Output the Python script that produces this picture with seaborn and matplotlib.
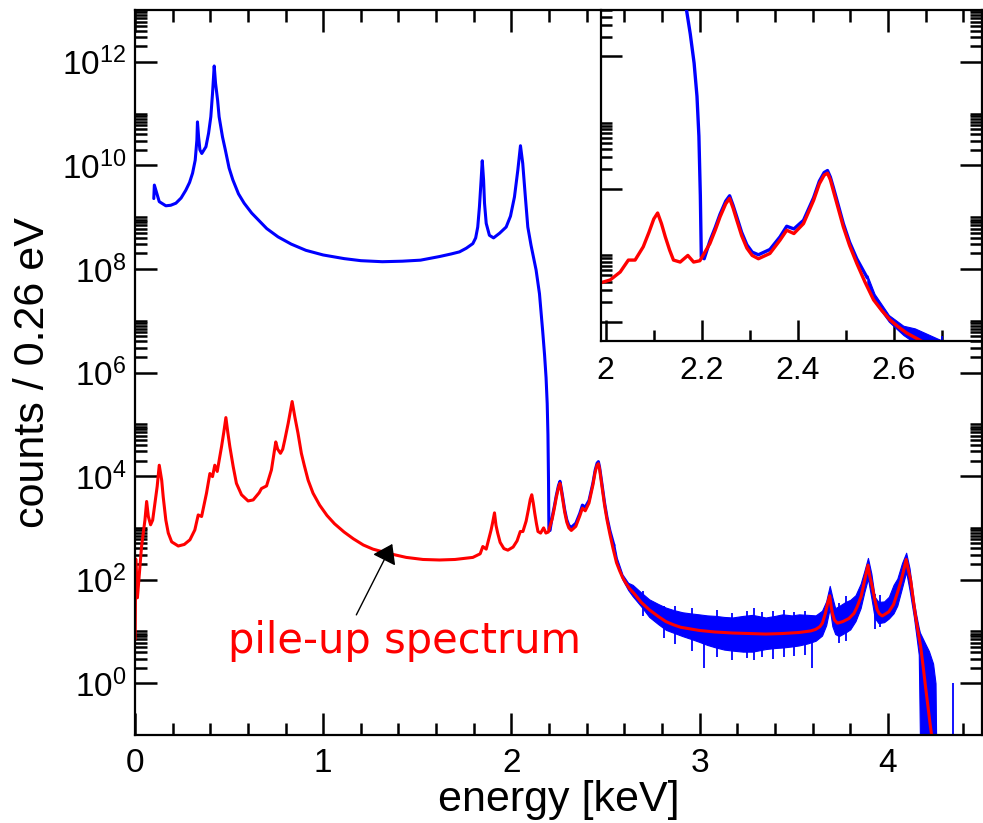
import numpy as np
import pandas as pd
import matplotlib
matplotlib.use("Agg")
import matplotlib.pyplot as plt
import seaborn as sns
from matplotlib.ticker import FixedLocator, MultipleLocator, NullFormatter, FuncFormatter

# ---------------- data (counts given as log10) ----------------
blue_E = [0.100, 0.103, 0.129, 0.164, 0.190, 0.2175, 0.245, 0.270, 0.290, 0.306,
          0.320, 0.329, 0.332, 0.338, 0.345, 0.355, 0.377, 0.391, 0.403, 0.412,
          0.421, 0.428, 0.439, 0.447, 0.465, 0.480, 0.500, 0.520, 0.550, 0.580,
          0.620, 0.660, 0.700, 0.760, 0.830, 0.908, 1.000, 1.111, 1.200, 1.314,
          1.420, 1.517, 1.618, 1.680, 1.724, 1.760, 1.795, 1.810, 1.821, 1.830,
          1.839, 1.845, 1.852, 1.857, 1.866, 1.883, 1.905, 1.937, 1.972, 1.995,
          2.016, 2.034, 2.048, 2.060, 2.074, 2.087, 2.104, 2.131, 2.149, 2.166,
          2.176, 2.184, 2.190, 2.194, 2.197, 2.199, 2.205, 2.217, 2.228, 2.238,
          2.250, 2.258, 2.265, 2.273, 2.283, 2.294, 2.305, 2.318, 2.342, 2.363,
          2.377, 2.392, 2.412, 2.433, 2.445, 2.455, 2.462, 2.468, 2.474, 2.484,
          2.495, 2.508, 2.523, 2.545]
blue_log = [9.36, 9.62, 9.30, 9.22, 9.23, 9.27, 9.37, 9.52, 9.67, 9.85,
            10.10, 10.49, 10.84, 10.55, 10.30, 10.23, 10.36, 10.62, 10.94, 11.39,
            11.92, 11.59, 11.26, 10.94, 10.55, 10.30, 9.95, 9.72, 9.45, 9.27,
            9.08, 8.93, 8.78, 8.62, 8.48, 8.36, 8.27, 8.20, 8.16, 8.14,
            8.15, 8.17, 8.24, 8.29, 8.33, 8.40, 8.49, 8.60, 8.81, 9.20,
            9.72, 10.09, 9.72, 9.27, 8.88, 8.65, 8.60, 8.69, 8.81, 9.02,
            9.39, 9.91, 10.38, 10.04, 9.39, 8.81, 8.46, 7.98, 7.52, 6.80,
            6.34, 5.90, 5.40, 4.80, 3.90, 2.98, 2.95, 3.22, 3.42, 3.62,
            3.82, 3.90, 3.76, 3.58, 3.35, 3.16, 3.05, 3.01, 3.09, 3.28,
            3.44, 3.40, 3.53, 3.87, 4.12, 4.25, 4.28, 4.18, 4.03, 3.77,
            3.48, 3.20, 2.95, 2.66]

# noisy part of the measured spectrum: upper / lower envelope of the dense band
band_E = [2.545, 2.560, 2.590, 2.620, 2.644, 2.690, 2.732, 2.780, 2.821, 2.865,
          2.909, 2.950, 2.997, 3.040, 3.086, 3.130, 3.174, 3.230, 3.280, 3.351,
          3.400, 3.440, 3.490, 3.528, 3.575, 3.616, 3.650, 3.672, 3.691, 3.705,
          3.720, 3.740, 3.775, 3.800, 3.828, 3.855, 3.875, 3.894, 3.912, 3.930,
          3.950, 3.980, 4.005, 4.030, 4.050, 4.075, 4.097, 4.115, 4.138, 4.150,
          4.164, 4.170, 4.191, 4.218, 4.240, 4.253, 4.256]
band_hi = [2.70, 2.42, 2.10, 1.94, 1.90, 1.75, 1.62, 1.53, 1.46, 1.41,
           1.37, 1.35, 1.33, 1.31, 1.30, 1.28, 1.27, 1.30, 1.32, 1.27,
           1.30, 1.33, 1.31, 1.33, 1.32, 1.31, 1.40, 1.58, 1.88, 1.66,
           1.45, 1.49, 1.57, 1.61, 1.70, 1.92, 2.17, 2.42, 2.12, 1.67,
           1.57, 1.58, 1.67, 1.90, 2.02, 2.32, 2.52, 2.22, 1.58, 1.33,
           1.07, 0.98, 0.82, 0.62, 0.38, 0.00, -1.00]
band_lo = [2.57, 2.30, 2.00, 1.80, 1.68, 1.48, 1.28, 1.14, 1.03, 0.97,
           0.91, 0.86, 0.80, 0.74, 0.69, 0.65, 0.63, 0.61, 0.61, 0.66,
           0.68, 0.69, 0.71, 0.73, 0.77, 0.82, 0.92, 1.12, 1.45, 1.10,
           0.95, 0.91, 0.98, 1.04, 1.20, 1.45, 1.76, 2.02, 1.65, 1.26,
           1.16, 1.18, 1.25, 1.35, 1.50, 1.84, 2.15, 1.80, 1.28, 0.95,
           0.55, -1.00, -1.00, -1.00, -1.00, -1.00, -1.00]
# single channels sticking out of the band
spike_E = [2.700, 2.810, 2.870, 2.960, 3.024, 3.090, 3.170, 3.250, 3.290, 3.330,
           3.390, 3.450, 3.500, 3.560, 3.598, 3.740, 3.780, 3.930, 3.960, 4.345]
spike_lo = [1.30, 0.88, 0.75, 0.62, 0.29, 0.50, 0.45, 0.48, 0.45, 0.50,
            0.47, 0.50, 0.52, 0.55, 0.29, 0.78, 0.82, 1.05, 1.08, -1.00]
spike_hi = [1.78, 1.50, 1.50, 1.45, 1.10, 1.42, 1.36, 1.40, 1.45, 1.38,
            1.40, 1.42, 1.38, 1.40, 1.20, 1.55, 1.68, 1.72, 1.70, 0.00]

pile_E = [0.001, 0.004, 0.013, 0.035, 0.053, 0.062, 0.071, 0.083, 0.094, 0.106,
          0.118, 0.129, 0.142, 0.150, 0.164, 0.177, 0.195, 0.230, 0.262, 0.292,
          0.318, 0.336, 0.354, 0.380, 0.398, 0.412, 0.424, 0.437, 0.460, 0.472,
          0.483, 0.493, 0.504, 0.522, 0.539, 0.566, 0.601, 0.628, 0.660, 0.672,
          0.699, 0.725, 0.737, 0.748, 0.758, 0.773, 0.785, 0.796, 0.814, 0.835,
          0.849, 0.866, 0.884, 0.900, 0.920, 0.946, 0.981, 1.020, 1.060, 1.111,
          1.160, 1.213, 1.264, 1.314, 1.380, 1.441, 1.530, 1.618, 1.700, 1.795,
          1.834, 1.848, 1.866, 1.892, 1.900, 1.910, 1.918, 1.927, 1.940, 1.960,
          1.981, 2.009, 2.030, 2.047, 2.061, 2.078, 2.090, 2.100, 2.108, 2.116,
          2.124, 2.133, 2.141, 2.155, 2.171, 2.183, 2.196, 2.217, 2.228, 2.238,
          2.250, 2.258, 2.265, 2.273, 2.283, 2.294, 2.305, 2.318, 2.342, 2.363,
          2.377, 2.392, 2.412, 2.433, 2.445, 2.455, 2.462, 2.468, 2.474, 2.484,
          2.495, 2.508, 2.523, 2.540, 2.558, 2.575, 2.592, 2.610, 2.627, 2.655,
          2.690, 2.732, 2.780, 2.821, 2.860, 2.900, 2.950, 2.997, 3.080, 3.174,
          3.260, 3.351, 3.440, 3.528, 3.590, 3.616, 3.638, 3.652, 3.668, 3.680,
          3.691, 3.698, 3.705, 3.716, 3.732, 3.760, 3.793, 3.820, 3.837, 3.858,
          3.873, 3.885, 3.894, 3.903, 3.917, 3.930, 3.943, 3.955, 3.970, 4.005,
          4.030, 4.050, 4.066, 4.080, 4.090, 4.097, 4.108, 4.121, 4.135, 4.147,
          4.160, 4.174, 4.187, 4.200, 4.213, 4.226, 4.240]
pile_log = [0.85, 2.40, 1.65, 2.64, 3.15, 3.51, 3.22, 3.06, 3.15, 3.47,
            3.80, 4.21, 3.92, 3.60, 3.15, 2.90, 2.73, 2.65, 2.68, 2.77,
            2.96, 3.25, 3.22, 3.67, 4.05, 3.99, 4.21, 4.09, 4.57, 4.85,
            5.13, 4.85, 4.57, 4.18, 3.86, 3.64, 3.52, 3.54, 3.68, 3.76,
            3.81, 4.12, 4.40, 4.66, 4.52, 4.44, 4.52, 4.70, 5.02, 5.44,
            5.15, 4.83, 4.44, 4.20, 3.92, 3.67, 3.44, 3.24, 3.08, 2.92,
            2.79, 2.67, 2.59, 2.54, 2.48, 2.43, 2.39, 2.38, 2.39, 2.43,
            2.50, 2.64, 2.59, 2.96, 3.10, 3.29, 3.05, 2.90, 2.72, 2.60,
            2.57, 2.63, 2.75, 2.93, 2.93, 3.13, 3.35, 3.55, 3.64, 3.48,
            3.28, 3.08, 2.93, 2.90, 3.00, 2.90, 2.92, 3.18, 3.38, 3.58,
            3.78, 3.86, 3.72, 3.53, 3.30, 3.11, 3.00, 2.95, 3.03, 3.23,
            3.38, 3.33, 3.48, 3.83, 4.08, 4.21, 4.24, 4.14, 3.98, 3.72,
            3.43, 3.15, 2.88, 2.60, 2.33, 2.17, 2.03, 1.92, 1.83, 1.72,
            1.56, 1.42, 1.29, 1.19, 1.13, 1.08, 1.05, 1.02, 0.99, 0.97,
            0.96, 0.95, 0.96, 0.98, 1.01, 1.04, 1.09, 1.16, 1.35, 1.55,
            1.69, 1.50, 1.35, 1.22, 1.16, 1.19, 1.25, 1.35, 1.48, 1.68,
            1.93, 2.12, 2.28, 2.08, 1.86, 1.62, 1.42, 1.34, 1.30, 1.38,
            1.52, 1.74, 1.93, 2.12, 2.28, 2.39, 2.20, 1.99, 1.62, 1.29,
            1.00, 0.71, 0.33, -0.07, -0.45, -0.84, -1.20]

main_xticks = [0, 1, 2, 3, 4]
main_ytick_exp = [0, 2, 4, 6, 8, 10, 12]
inset_xticks = [2.0, 2.2, 2.4, 2.6]

label_text = "pile-up spectrum"
xlabel_text = "energy [keV]"
ylabel_text = "counts / 0.26 eV"

# ---------------- tables ----------------
df_blue = pd.DataFrame({"E": blue_E, "counts": 10.0 ** np.array(blue_log)})
df_pile = pd.DataFrame({"E": pile_E, "counts": 10.0 ** np.array(pile_log)})
bE = np.array(band_E)
bhi = 10.0 ** np.array(band_hi)
blo = 10.0 ** np.array(band_lo)

BLUE = "#0000ff"
RED = "#ff0000"

sns.set_style("ticks")
plt.rcParams["font.family"] = ["Liberation Sans", "DejaVu Sans"]
plt.rcParams["mathtext.fontset"] = "custom"
plt.rcParams["mathtext.rm"] = "Liberation Sans"
plt.rcParams["mathtext.it"] = "Liberation Sans"
for k in ("text.color", "axes.labelcolor", "xtick.color", "ytick.color",
          "axes.edgecolor"):
    plt.rcParams[k] = "black"
plt.rcParams["axes.linewidth"] = 1.6

fig = plt.figure(figsize=(9.83, 8.23), dpi=100)
ax = fig.add_axes([0.1373, 0.1069, 0.8617, 0.8809])
axin = fig.add_axes([0.6114, 0.5860, 0.3876, 0.4018])
axin.patch.set_visible(False)


def draw(a, lw):
    a.fill_between(bE, blo, bhi, color=BLUE, lw=0.8, edgecolor=BLUE)
    a.vlines(spike_E, 10.0 ** np.array(spike_lo), 10.0 ** np.array(spike_hi),
             color=BLUE, lw=1.3)
    sns.lineplot(data=df_blue, x="E", y="counts", ax=a, color=BLUE, lw=lw,
                 sort=False, estimator=None, legend=False)
    sns.lineplot(data=df_pile, x="E", y="counts", ax=a, color=RED, lw=lw,
                 sort=False, estimator=None, legend=False)
    a.set_yscale("log")


def sup(v, p):
    return r"$\mathregular{10^{%d}}$" % int(round(np.log10(v)))


# ---------------- main axes ----------------
draw(ax, 2.2)
ax.set_xlim(0, 4.5)
ax.set_ylim(1e-1, 1e13)
ax.xaxis.set_major_locator(FixedLocator(main_xticks))
ax.xaxis.set_minor_locator(MultipleLocator(0.2))
ax.yaxis.set_major_locator(FixedLocator([10.0 ** k for k in main_ytick_exp]))
ax.yaxis.set_minor_locator(FixedLocator([m * 10.0 ** k for k in main_ytick_exp
                                         for m in range(2, 11)]))
ax.yaxis.set_major_formatter(FuncFormatter(sup))
ax.yaxis.set_minor_formatter(NullFormatter())
ax.xaxis.set_major_formatter(FuncFormatter(lambda v, p: "%d" % v))
ax.tick_params(which="both", direction="in", top=True, right=True, width=1.8,
               color="black", labelcolor="black")
ax.tick_params(which="major", length=16, labelsize=24)
ax.tick_params(axis="x", which="major", pad=9)
ax.tick_params(axis="y", which="major", pad=6)
ax.tick_params(which="minor", length=8.5)
ax.set_xlabel(xlabel_text, fontsize=31, color="black")
ax.set_ylabel(ylabel_text, fontsize=31, color="black")
ax.xaxis.set_label_coords(0.5, -0.062)
ax.yaxis.set_label_coords(-0.097, 0.5)
for s in ax.spines.values():
    s.set_linewidth(1.6)
    s.set_color("black")

ax.text(0.493, 10 ** 0.585, label_text, color=RED, fontsize=30,
        family=["DejaVu Sans"], ha="left", va="baseline")
ax.annotate("", xy=(1.367, 10 ** 2.69), xytext=(1.176, 10 ** 1.32),
            arrowprops=dict(arrowstyle="-|>,head_length=0.77,head_width=0.53",
                            mutation_scale=15, color="black", lw=1.0,
                            shrinkA=0, shrinkB=0))

# ---------------- inset ----------------
draw(axin, 2.4)
axin.set_xlim(1.990, 2.784)
axin.set_ylim(10 ** 1.714, 10 ** 6.70)
axin.xaxis.set_major_locator(FixedLocator(inset_xticks))
axin.xaxis.set_minor_locator(FixedLocator([2.1, 2.3, 2.5, 2.7]))
axin.xaxis.set_major_formatter(FuncFormatter(lambda v, p: "%g" % round(v, 1)))
axin.yaxis.set_major_locator(FixedLocator([1e2, 1e4, 1e6]))
axin.yaxis.set_minor_locator(FixedLocator([m * 10.0 ** k for k in (0, 2, 4, 6)
                                           for m in range(2, 11)]))
axin.yaxis.set_major_formatter(NullFormatter())
axin.yaxis.set_minor_formatter(NullFormatter())
axin.tick_params(which="both", direction="in", top=False, right=False,
                 width=1.8, color="black", labelcolor="black")
axin.tick_params(which="major", length=15, labelsize=23)
axin.tick_params(axis="x", which="major", pad=11)
axin.tick_params(which="minor", length=8)
axin.set_xlabel("")
axin.set_ylabel("")
axin.spines["top"].set_visible(False)
axin.spines["right"].set_visible(False)
for s in ("left", "bottom"):
    axin.spines[s].set_linewidth(1.6)
    axin.spines[s].set_color("black")

fig.savefig("out.png", dpi=100)
